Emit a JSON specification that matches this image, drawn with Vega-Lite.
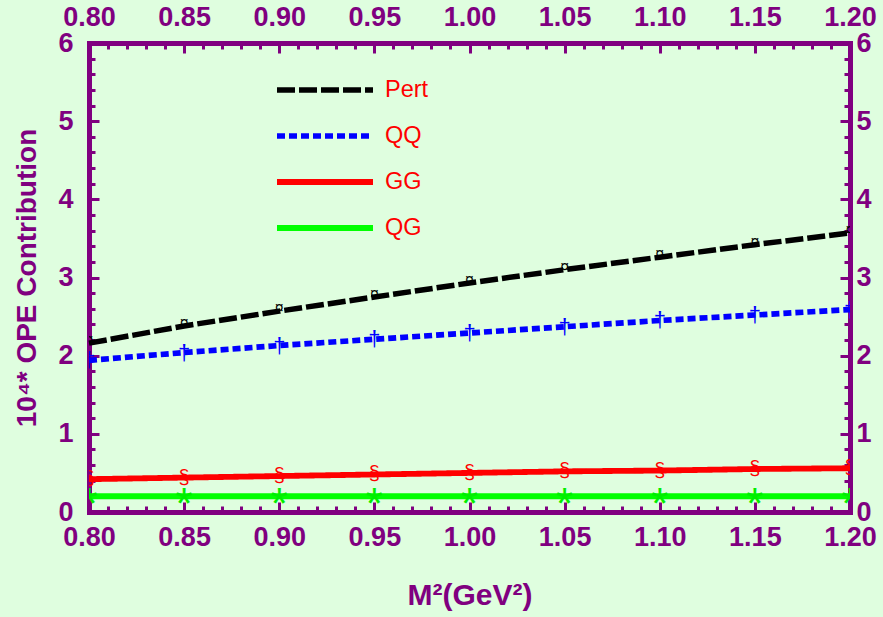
{
  "$schema": "https://vega.github.io/schema/vega-lite/v6.json",
  "width": 761,
  "height": 469,
  "autosize": {"type": "none"},
  "padding": {"left": 89, "top": 43, "right": 33, "bottom": 105},
  "background": "#dffedf",
  "config": {
    "view": {"stroke": null},
    "axis": {
      "labelColor": "#800080", "labelFont": "Liberation Sans", "labelFontWeight": "bold", "labelFontSize": 27,
      "titleColor": "#800080", "titleFont": "Liberation Sans", "titleFontWeight": "bold",
      "gridOpacity": 0, "labelOverlap": false, "labelFlush": false
    }
  },
  "data": {
    "values": [
      {"m": 0.80, "series": "Pert", "v": 2.16},
      {"m": 0.85, "series": "Pert", "v": 2.38},
      {"m": 0.90, "series": "Pert", "v": 2.57},
      {"m": 0.95, "series": "Pert", "v": 2.75},
      {"m": 1.00, "series": "Pert", "v": 2.93},
      {"m": 1.05, "series": "Pert", "v": 3.10},
      {"m": 1.10, "series": "Pert", "v": 3.26},
      {"m": 1.15, "series": "Pert", "v": 3.42},
      {"m": 1.20, "series": "Pert", "v": 3.57},
      {"m": 0.80, "series": "QQ", "v": 1.94},
      {"m": 0.85, "series": "QQ", "v": 2.04},
      {"m": 0.90, "series": "QQ", "v": 2.13},
      {"m": 0.95, "series": "QQ", "v": 2.21},
      {"m": 1.00, "series": "QQ", "v": 2.29},
      {"m": 1.05, "series": "QQ", "v": 2.37},
      {"m": 1.10, "series": "QQ", "v": 2.45},
      {"m": 1.15, "series": "QQ", "v": 2.52},
      {"m": 1.20, "series": "QQ", "v": 2.59},
      {"m": 0.80, "series": "GG", "v": 0.42},
      {"m": 0.85, "series": "GG", "v": 0.44},
      {"m": 0.90, "series": "GG", "v": 0.46},
      {"m": 0.95, "series": "GG", "v": 0.48},
      {"m": 1.00, "series": "GG", "v": 0.50},
      {"m": 1.05, "series": "GG", "v": 0.52},
      {"m": 1.10, "series": "GG", "v": 0.53},
      {"m": 1.15, "series": "GG", "v": 0.55},
      {"m": 1.20, "series": "GG", "v": 0.56},
      {"m": 0.80, "series": "QG", "v": 0.20},
      {"m": 0.85, "series": "QG", "v": 0.20},
      {"m": 0.90, "series": "QG", "v": 0.20},
      {"m": 0.95, "series": "QG", "v": 0.20},
      {"m": 1.00, "series": "QG", "v": 0.20},
      {"m": 1.05, "series": "QG", "v": 0.20},
      {"m": 1.10, "series": "QG", "v": 0.20},
      {"m": 1.15, "series": "QG", "v": 0.20},
      {"m": 1.20, "series": "QG", "v": 0.20}
    ]
  },
  "layer": [
    {
      "mark": {"type": "line", "strokeCap": "butt"},
      "encoding": {
        "x": {
          "field": "m", "type": "quantitative",
          "scale": {"domain": [0.8, 1.2], "nice": false, "zero": false},
          "axis": {
            "orient": "bottom",
            "domain": true, "domainColor": "#800080", "domainWidth": 5, "domainCap": "square",
            "ticks": true, "tickColor": "#800080", "tickWidth": 3, "tickSize": -10,
            "tickCount": 8,
            "format": ".2f",
            "labelPadding": 22,
            "title": "M²(GeV²)", "titleFontSize": 30, "titlePadding": 30
          }
        },
        "y": {
          "field": "v", "type": "quantitative",
          "scale": {"domain": [0, 6], "nice": false},
          "axis": {
            "orient": "left",
            "domain": true, "domainColor": "#800080", "domainWidth": 5, "domainCap": "square",
            "ticks": true, "tickColor": "#800080", "tickWidth": 3, "tickSize": -10,
            "tickCount": 6,
            "format": "d",
            "labelPadding": 26,
            "title": "10⁴* OPE Contribution", "titleFontSize": 28, "titlePadding": 16
          }
        },
        "color": {
          "field": "series", "type": "nominal",
          "scale": {"domain": ["Pert", "QQ", "GG", "QG"], "range": ["#000000", "#0000ff", "#ff0000", "#00ff00"]},
          "legend": {
            "orient": "none", "legendX": 209, "legendY": 20, "title": null,
            "symbolType": "M-2,0H2", "symbolSize": 2304, "symbolOpacity": 1,
            "labelColor": "#ff0000", "labelFontSize": 23.5, "labelFont": "Liberation Sans", "labelOffset": 33,
            "rowPadding": 7
          }
        },
        "strokeDash": {
          "field": "series", "type": "nominal",
          "scale": {"domain": ["Pert", "QQ", "GG", "QG"], "range": [[18, 4], [8, 4], [1, 0], [1, 0]]}
        },
        "strokeWidth": {
          "field": "series", "type": "nominal",
          "scale": {"domain": ["Pert", "QQ", "GG", "QG"], "range": [5.5, 6, 7, 7]}
        }
      }
    },
    {
      "transform": [{"filter": "datum.series == 'Pert'"}],
      "mark": {"type": "text", "text": "¤", "color": "#000000", "fontSize": 16, "font": "Liberation Sans", "baseline": "middle", "clip": true, "dy": -3},
      "encoding": {
        "x": {"field": "m", "type": "quantitative",
          "axis": {
            "orient": "top",
            "domain": true, "domainColor": "#800080", "domainWidth": 5, "domainCap": "square",
            "ticks": true, "tickColor": "#800080", "tickWidth": 3, "tickSize": -10,
            "tickCount": 8,
            "format": ".2f",
            "labelPadding": 22,
            "title": null
          }
        },
        "y": {"field": "v", "type": "quantitative",
          "axis": {
            "orient": "right",
            "domain": true, "domainColor": "#800080", "domainWidth": 5, "domainCap": "square",
            "ticks": true, "tickColor": "#800080", "tickWidth": 3, "tickSize": -10,
            "tickCount": 6,
            "format": "d",
            "labelPadding": 16,
            "title": null
          }
        }
      }
    },
    {
      "transform": [{"filter": "datum.series == 'QQ'"}],
      "mark": {"type": "text", "text": "†", "color": "#0000ff", "fontSize": 22, "font": "Liberation Sans", "baseline": "middle", "clip": true},
      "encoding": {
        "x": {"field": "m", "type": "quantitative",
          "axis": {
            "orient": "bottom", "domain": false,
            "ticks": true, "tickColor": "#800080", "tickWidth": 3, "tickSize": -6,
            "tickCount": 40,
            "labels": false, "title": null
          }
        },
        "y": {"field": "v", "type": "quantitative",
          "axis": {
            "orient": "left", "domain": false,
            "ticks": true, "tickColor": "#800080", "tickWidth": 3, "tickSize": -6,
            "tickCount": 30,
            "labels": false, "title": null
          }
        }
      }
    },
    {
      "transform": [{"filter": "datum.series == 'GG'"}],
      "mark": {"type": "text", "text": "§", "color": "#ff0000", "fontSize": 20, "font": "Liberation Sans", "baseline": "middle", "clip": true},
      "encoding": {
        "x": {"field": "m", "type": "quantitative",
          "axis": {
            "orient": "top", "domain": false,
            "ticks": true, "tickColor": "#800080", "tickWidth": 3, "tickSize": -6,
            "tickCount": 40,
            "labels": false, "title": null
          }
        },
        "y": {"field": "v", "type": "quantitative",
          "axis": {
            "orient": "right", "domain": false,
            "ticks": true, "tickColor": "#800080", "tickWidth": 3, "tickSize": -6,
            "tickCount": 30,
            "labels": false, "title": null
          }
        }
      }
    },
    {
      "transform": [{"filter": "datum.series == 'QG'"}],
      "mark": {"type": "text", "text": "*", "color": "#00ee00", "fontSize": 44, "font": "Liberation Sans", "baseline": "middle", "clip": true, "dy": 10},
      "encoding": {
        "x": {"field": "m", "type": "quantitative", "axis": null},
        "y": {"field": "v", "type": "quantitative", "axis": null}
      }
    }
  ],
  "resolve": {"axis": {"x": "independent", "y": "independent"}}
}
